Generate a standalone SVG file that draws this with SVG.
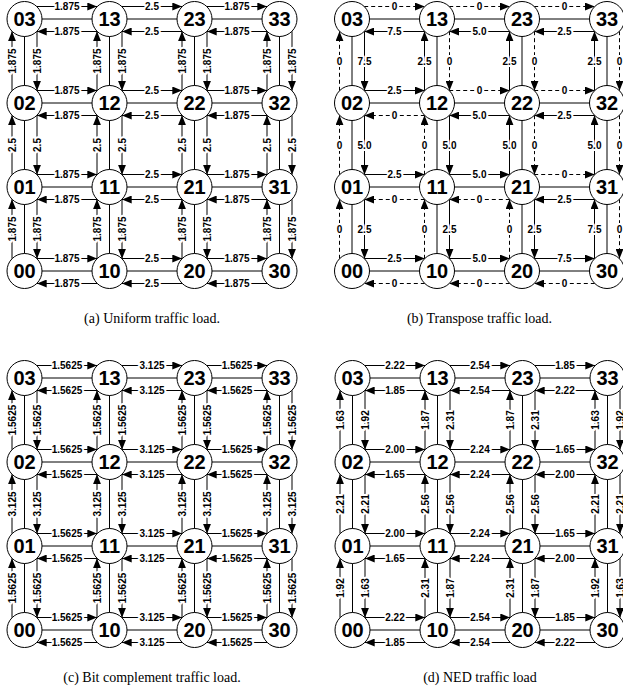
<svg xmlns="http://www.w3.org/2000/svg" xmlns:xlink="http://www.w3.org/1999/xlink" width="623" height="694" viewBox="0 0 623 694">
<style>
.cx{stroke:#000;stroke-width:1;fill:none}
.ar{stroke:#000;stroke-width:1;fill:none;marker-end:url(#ah)}
.d{stroke-dasharray:4 3}
.n circle{fill:#fff;stroke:#000;stroke-width:1}
.n text{font-family:"Liberation Sans",Arial,sans-serif;font-weight:bold;font-size:20px;text-anchor:middle;dominant-baseline:central;fill:#000}
.lb text{font-family:"Liberation Sans",Arial,sans-serif;font-weight:bold;font-size:10px;text-anchor:middle;dominant-baseline:central;fill:#000;stroke:#fff;stroke-width:4;paint-order:stroke;stroke-linejoin:round}
.cap{font-family:"Liberation Serif","Times New Roman",serif;font-size:14px;text-anchor:middle;fill:#000}
</style>
<defs>
<marker id="ah" markerUnits="userSpaceOnUse" markerWidth="10" markerHeight="8" refX="10" refY="4" orient="auto"><path d="M0,0 L10,4 L0,8 z" fill="#000" stroke="none"/></marker>
<line id="hr" x1="12.2" y1="-12.5" x2="72.8" y2="-12.5"/>
<line id="hl" x1="72.8" y1="12.5" x2="12.2" y2="12.5"/>
<line id="vu" x1="-12.5" y1="71.8" x2="-12.5" y2="12.2"/>
<line id="vd" x1="12.5" y1="12.2" x2="12.5" y2="71.8"/>
<g id="grid">
<line x1="0" y1="0" x2="255" y2="0"/><line x1="0" y1="84" x2="255" y2="84"/><line x1="0" y1="168" x2="255" y2="168"/><line x1="0" y1="252" x2="255" y2="252"/>
<line x1="0" y1="0" x2="0" y2="252"/><line x1="85" y1="0" x2="85" y2="252"/><line x1="170" y1="0" x2="170" y2="252"/><line x1="255" y1="0" x2="255" y2="252"/>
</g>
<g id="arrs">
<use href="#hr" x="0" y="0"/><use href="#hr" x="85" y="0"/><use href="#hr" x="170" y="0"/>
<use href="#hr" x="0" y="84"/><use href="#hr" x="85" y="84"/><use href="#hr" x="170" y="84"/>
<use href="#hr" x="0" y="168"/><use href="#hr" x="85" y="168"/><use href="#hr" x="170" y="168"/>
<use href="#hr" x="0" y="252"/><use href="#hr" x="85" y="252"/><use href="#hr" x="170" y="252"/>
<use href="#hl" x="0" y="0"/><use href="#hl" x="85" y="0"/><use href="#hl" x="170" y="0"/>
<use href="#hl" x="0" y="84"/><use href="#hl" x="85" y="84"/><use href="#hl" x="170" y="84"/>
<use href="#hl" x="0" y="168"/><use href="#hl" x="85" y="168"/><use href="#hl" x="170" y="168"/>
<use href="#hl" x="0" y="252"/><use href="#hl" x="85" y="252"/><use href="#hl" x="170" y="252"/>
<use href="#vu" x="0" y="0"/><use href="#vu" x="0" y="84"/><use href="#vu" x="0" y="168"/>
<use href="#vu" x="85" y="0"/><use href="#vu" x="85" y="84"/><use href="#vu" x="85" y="168"/>
<use href="#vu" x="170" y="0"/><use href="#vu" x="170" y="84"/><use href="#vu" x="170" y="168"/>
<use href="#vu" x="255" y="0"/><use href="#vu" x="255" y="84"/><use href="#vu" x="255" y="168"/>
<use href="#vd" x="0" y="0"/><use href="#vd" x="0" y="84"/><use href="#vd" x="0" y="168"/>
<use href="#vd" x="85" y="0"/><use href="#vd" x="85" y="84"/><use href="#vd" x="85" y="168"/>
<use href="#vd" x="170" y="0"/><use href="#vd" x="170" y="84"/><use href="#vd" x="170" y="168"/>
<use href="#vd" x="255" y="0"/><use href="#vd" x="255" y="84"/><use href="#vd" x="255" y="168"/>
</g>
</defs>
<rect width="623" height="694" fill="#fff"/>

<!-- (a) Uniform -->
<g id="panel-a" transform="translate(24.5,19)">
<g id="a-connectors">
<use href="#grid" class="cx"/>
<g class="ar"><use href="#arrs"/></g>
<g class="lb">
<text x="42.5" y="-12.5">1.875</text><text x="127.5" y="-12.5">2.5</text><text x="212.5" y="-12.5">1.875</text>
<text x="42.5" y="12.5">1.875</text><text x="127.5" y="12.5">2.5</text><text x="212.5" y="12.5">1.875</text>
<text x="42.5" y="71.5">1.875</text><text x="127.5" y="71.5">2.5</text><text x="212.5" y="71.5">1.875</text>
<text x="42.5" y="96.5">1.875</text><text x="127.5" y="96.5">2.5</text><text x="212.5" y="96.5">1.875</text>
<text x="42.5" y="155.5">1.875</text><text x="127.5" y="155.5">2.5</text><text x="212.5" y="155.5">1.875</text>
<text x="42.5" y="180.5">1.875</text><text x="127.5" y="180.5">2.5</text><text x="212.5" y="180.5">1.875</text>
<text x="42.5" y="239.5">1.875</text><text x="127.5" y="239.5">2.5</text><text x="212.5" y="239.5">1.875</text>
<text x="42.5" y="264.5">1.875</text><text x="127.5" y="264.5">2.5</text><text x="212.5" y="264.5">1.875</text>
<g transform="rotate(-90)">
<text x="-42" y="-12.5">1.875</text><text x="-126" y="-12.5">2.5</text><text x="-210" y="-12.5">1.875</text>
<text x="-42" y="12.5">1.875</text><text x="-126" y="12.5">2.5</text><text x="-210" y="12.5">1.875</text>
<text x="-42" y="72.5">1.875</text><text x="-126" y="72.5">2.5</text><text x="-210" y="72.5">1.875</text>
<text x="-42" y="97.5">1.875</text><text x="-126" y="97.5">2.5</text><text x="-210" y="97.5">1.875</text>
<text x="-42" y="157.5">1.875</text><text x="-126" y="157.5">2.5</text><text x="-210" y="157.5">1.875</text>
<text x="-42" y="182.5">1.875</text><text x="-126" y="182.5">2.5</text><text x="-210" y="182.5">1.875</text>
<text x="-42" y="242.5">1.875</text><text x="-126" y="242.5">2.5</text><text x="-210" y="242.5">1.875</text>
<text x="-42" y="267.5">1.875</text><text x="-126" y="267.5">2.5</text><text x="-210" y="267.5">1.875</text>
</g>
</g>
</g>
<g id="a-03" class="n" transform="translate(0,0)"><circle r="17.5"/><text>03</text></g>
<g id="a-13" class="n" transform="translate(85,0)"><circle r="17.5"/><text>13</text></g>
<g id="a-23" class="n" transform="translate(170,0)"><circle r="17.5"/><text>23</text></g>
<g id="a-33" class="n" transform="translate(255,0)"><circle r="17.5"/><text>33</text></g>
<g id="a-02" class="n" transform="translate(0,84)"><circle r="17.5"/><text>02</text></g>
<g id="a-12" class="n" transform="translate(85,84)"><circle r="17.5"/><text>12</text></g>
<g id="a-22" class="n" transform="translate(170,84)"><circle r="17.5"/><text>22</text></g>
<g id="a-32" class="n" transform="translate(255,84)"><circle r="17.5"/><text>32</text></g>
<g id="a-01" class="n" transform="translate(0,168)"><circle r="17.5"/><text>01</text></g>
<g id="a-11" class="n" transform="translate(85,168)"><circle r="17.5"/><text>11</text></g>
<g id="a-21" class="n" transform="translate(170,168)"><circle r="17.5"/><text>21</text></g>
<g id="a-31" class="n" transform="translate(255,168)"><circle r="17.5"/><text>31</text></g>
<g id="a-00" class="n" transform="translate(0,252)"><circle r="17.5"/><text>00</text></g>
<g id="a-10" class="n" transform="translate(85,252)"><circle r="17.5"/><text>10</text></g>
<g id="a-20" class="n" transform="translate(170,252)"><circle r="17.5"/><text>20</text></g>
<g id="a-30" class="n" transform="translate(255,252)"><circle r="17.5"/><text>30</text></g>
</g>

<!-- (b) Transpose -->
<g id="panel-b" transform="translate(352,19)">
<g id="b-connectors">
<use href="#grid" class="cx"/>
<g class="ar">
<use href="#hr" x="0" y="0" class="d"/><use href="#hr" x="85" y="0" class="d"/><use href="#hr" x="170" y="0" class="d"/>
<use href="#hr" x="0" y="84"/><use href="#hr" x="85" y="84" class="d"/><use href="#hr" x="170" y="84" class="d"/>
<use href="#hr" x="0" y="168"/><use href="#hr" x="85" y="168"/><use href="#hr" x="170" y="168" class="d"/>
<use href="#hr" x="0" y="252"/><use href="#hr" x="85" y="252"/><use href="#hr" x="170" y="252"/>
<use href="#hl" x="0" y="0"/><use href="#hl" x="85" y="0"/><use href="#hl" x="170" y="0"/>
<use href="#hl" x="0" y="84" class="d"/><use href="#hl" x="85" y="84"/><use href="#hl" x="170" y="84"/>
<use href="#hl" x="0" y="168" class="d"/><use href="#hl" x="85" y="168" class="d"/><use href="#hl" x="170" y="168"/>
<use href="#hl" x="0" y="252" class="d"/><use href="#hl" x="85" y="252" class="d"/><use href="#hl" x="170" y="252" class="d"/>
<use href="#vu" x="0" y="0" class="d"/><use href="#vu" x="0" y="84" class="d"/><use href="#vu" x="0" y="168" class="d"/>
<use href="#vu" x="85" y="0"/><use href="#vu" x="85" y="84" class="d"/><use href="#vu" x="85" y="168" class="d"/>
<use href="#vu" x="170" y="0"/><use href="#vu" x="170" y="84"/><use href="#vu" x="170" y="168" class="d"/>
<use href="#vu" x="255" y="0"/><use href="#vu" x="255" y="84"/><use href="#vu" x="255" y="168"/>
<use href="#vd" x="0" y="0"/><use href="#vd" x="0" y="84"/><use href="#vd" x="0" y="168"/>
<use href="#vd" x="85" y="0" class="d"/><use href="#vd" x="85" y="84"/><use href="#vd" x="85" y="168"/>
<use href="#vd" x="170" y="0" class="d"/><use href="#vd" x="170" y="84" class="d"/><use href="#vd" x="170" y="168"/>
<use href="#vd" x="255" y="0" class="d"/><use href="#vd" x="255" y="84" class="d"/><use href="#vd" x="255" y="168" class="d"/>
</g>
<g class="lb">
<text x="42.5" y="-12.5">0</text><text x="127.5" y="-12.5">0</text><text x="212.5" y="-12.5">0</text>
<text x="42.5" y="12.5">7.5</text><text x="127.5" y="12.5">5.0</text><text x="212.5" y="12.5">2.5</text>
<text x="42.5" y="71.5">2.5</text><text x="127.5" y="71.5">0</text><text x="212.5" y="71.5">0</text>
<text x="42.5" y="96.5">0</text><text x="127.5" y="96.5">5.0</text><text x="212.5" y="96.5">2.5</text>
<text x="42.5" y="155.5">2.5</text><text x="127.5" y="155.5">5.0</text><text x="212.5" y="155.5">0</text>
<text x="42.5" y="180.5">0</text><text x="127.5" y="180.5">0</text><text x="212.5" y="180.5">2.5</text>
<text x="42.5" y="239.5">2.5</text><text x="127.5" y="239.5">5.0</text><text x="212.5" y="239.5">7.5</text>
<text x="42.5" y="264.5">0</text><text x="127.5" y="264.5">0</text><text x="212.5" y="264.5">0</text>
<text x="-12.5" y="42">0</text><text x="-12.5" y="126">0</text><text x="-12.5" y="210">0</text>
<text x="12.5" y="42">7.5</text><text x="12.5" y="126">5.0</text><text x="12.5" y="210">2.5</text>
<text x="72.5" y="42">2.5</text><text x="72.5" y="126">0</text><text x="72.5" y="210">0</text>
<text x="97.5" y="42">0</text><text x="97.5" y="126">5.0</text><text x="97.5" y="210">2.5</text>
<text x="157.5" y="42">2.5</text><text x="157.5" y="126">5.0</text><text x="157.5" y="210">0</text>
<text x="182.5" y="42">0</text><text x="182.5" y="126">0</text><text x="182.5" y="210">2.5</text>
<text x="242.5" y="42">2.5</text><text x="242.5" y="126">5.0</text><text x="242.5" y="210">7.5</text>
<text x="267.5" y="42">0</text><text x="267.5" y="126">0</text><text x="267.5" y="210">0</text>
</g>
</g>
<g id="b-03" class="n" transform="translate(0,0)"><circle r="17.5"/><text>03</text></g>
<g id="b-13" class="n" transform="translate(85,0)"><circle r="17.5"/><text>13</text></g>
<g id="b-23" class="n" transform="translate(170,0)"><circle r="17.5"/><text>23</text></g>
<g id="b-33" class="n" transform="translate(255,0)"><circle r="17.5"/><text>33</text></g>
<g id="b-02" class="n" transform="translate(0,84)"><circle r="17.5"/><text>02</text></g>
<g id="b-12" class="n" transform="translate(85,84)"><circle r="17.5"/><text>12</text></g>
<g id="b-22" class="n" transform="translate(170,84)"><circle r="17.5"/><text>22</text></g>
<g id="b-32" class="n" transform="translate(255,84)"><circle r="17.5"/><text>32</text></g>
<g id="b-01" class="n" transform="translate(0,168)"><circle r="17.5"/><text>01</text></g>
<g id="b-11" class="n" transform="translate(85,168)"><circle r="17.5"/><text>11</text></g>
<g id="b-21" class="n" transform="translate(170,168)"><circle r="17.5"/><text>21</text></g>
<g id="b-31" class="n" transform="translate(255,168)"><circle r="17.5"/><text>31</text></g>
<g id="b-00" class="n" transform="translate(0,252)"><circle r="17.5"/><text>00</text></g>
<g id="b-10" class="n" transform="translate(85,252)"><circle r="17.5"/><text>10</text></g>
<g id="b-20" class="n" transform="translate(170,252)"><circle r="17.5"/><text>20</text></g>
<g id="b-30" class="n" transform="translate(255,252)"><circle r="17.5"/><text>30</text></g>
</g>

<!-- (c) Bit complement -->
<g id="panel-c" transform="translate(24.5,378)">
<g id="c-connectors">
<use href="#grid" class="cx"/>
<g class="ar"><use href="#arrs"/></g>
<g class="lb">
<text x="42.5" y="-12.5">1.5625</text><text x="127.5" y="-12.5">3.125</text><text x="212.5" y="-12.5">1.5625</text>
<text x="42.5" y="12.5">1.5625</text><text x="127.5" y="12.5">3.125</text><text x="212.5" y="12.5">1.5625</text>
<text x="42.5" y="71.5">1.5625</text><text x="127.5" y="71.5">3.125</text><text x="212.5" y="71.5">1.5625</text>
<text x="42.5" y="96.5">1.5625</text><text x="127.5" y="96.5">3.125</text><text x="212.5" y="96.5">1.5625</text>
<text x="42.5" y="155.5">1.5625</text><text x="127.5" y="155.5">3.125</text><text x="212.5" y="155.5">1.5625</text>
<text x="42.5" y="180.5">1.5625</text><text x="127.5" y="180.5">3.125</text><text x="212.5" y="180.5">1.5625</text>
<text x="42.5" y="239.5">1.5625</text><text x="127.5" y="239.5">3.125</text><text x="212.5" y="239.5">1.5625</text>
<text x="42.5" y="264.5">1.5625</text><text x="127.5" y="264.5">3.125</text><text x="212.5" y="264.5">1.5625</text>
<g transform="rotate(-90)">
<text x="-42" y="-12.5">1.5625</text><text x="-126" y="-12.5">3.125</text><text x="-210" y="-12.5">1.5625</text>
<text x="-42" y="12.5">1.5625</text><text x="-126" y="12.5">3.125</text><text x="-210" y="12.5">1.5625</text>
<text x="-42" y="72.5">1.5625</text><text x="-126" y="72.5">3.125</text><text x="-210" y="72.5">1.5625</text>
<text x="-42" y="97.5">1.5625</text><text x="-126" y="97.5">3.125</text><text x="-210" y="97.5">1.5625</text>
<text x="-42" y="157.5">1.5625</text><text x="-126" y="157.5">3.125</text><text x="-210" y="157.5">1.5625</text>
<text x="-42" y="182.5">1.5625</text><text x="-126" y="182.5">3.125</text><text x="-210" y="182.5">1.5625</text>
<text x="-42" y="242.5">1.5625</text><text x="-126" y="242.5">3.125</text><text x="-210" y="242.5">1.5625</text>
<text x="-42" y="267.5">1.5625</text><text x="-126" y="267.5">3.125</text><text x="-210" y="267.5">1.5625</text>
</g>
</g>
</g>
<g id="c-03" class="n" transform="translate(0,0)"><circle r="17.5"/><text>03</text></g>
<g id="c-13" class="n" transform="translate(85,0)"><circle r="17.5"/><text>13</text></g>
<g id="c-23" class="n" transform="translate(170,0)"><circle r="17.5"/><text>23</text></g>
<g id="c-33" class="n" transform="translate(255,0)"><circle r="17.5"/><text>33</text></g>
<g id="c-02" class="n" transform="translate(0,84)"><circle r="17.5"/><text>02</text></g>
<g id="c-12" class="n" transform="translate(85,84)"><circle r="17.5"/><text>12</text></g>
<g id="c-22" class="n" transform="translate(170,84)"><circle r="17.5"/><text>22</text></g>
<g id="c-32" class="n" transform="translate(255,84)"><circle r="17.5"/><text>32</text></g>
<g id="c-01" class="n" transform="translate(0,168)"><circle r="17.5"/><text>01</text></g>
<g id="c-11" class="n" transform="translate(85,168)"><circle r="17.5"/><text>11</text></g>
<g id="c-21" class="n" transform="translate(170,168)"><circle r="17.5"/><text>21</text></g>
<g id="c-31" class="n" transform="translate(255,168)"><circle r="17.5"/><text>31</text></g>
<g id="c-00" class="n" transform="translate(0,252)"><circle r="17.5"/><text>00</text></g>
<g id="c-10" class="n" transform="translate(85,252)"><circle r="17.5"/><text>10</text></g>
<g id="c-20" class="n" transform="translate(170,252)"><circle r="17.5"/><text>20</text></g>
<g id="c-30" class="n" transform="translate(255,252)"><circle r="17.5"/><text>30</text></g>
</g>

<!-- (d) NED -->
<g id="panel-d" transform="translate(352.5,378)">
<g id="d-connectors">
<use href="#grid" class="cx"/>
<g class="ar"><use href="#arrs"/></g>
<g class="lb">
<text x="42.5" y="-12.5">2.22</text><text x="127.5" y="-12.5">2.54</text><text x="212.5" y="-12.5">1.85</text>
<text x="42.5" y="12.5">1.85</text><text x="127.5" y="12.5">2.54</text><text x="212.5" y="12.5">2.22</text>
<text x="42.5" y="71.5">2.00</text><text x="127.5" y="71.5">2.24</text><text x="212.5" y="71.5">1.65</text>
<text x="42.5" y="96.5">1.65</text><text x="127.5" y="96.5">2.24</text><text x="212.5" y="96.5">2.00</text>
<text x="42.5" y="155.5">2.00</text><text x="127.5" y="155.5">2.24</text><text x="212.5" y="155.5">1.65</text>
<text x="42.5" y="180.5">1.65</text><text x="127.5" y="180.5">2.24</text><text x="212.5" y="180.5">2.00</text>
<text x="42.5" y="239.5">2.22</text><text x="127.5" y="239.5">2.54</text><text x="212.5" y="239.5">1.85</text>
<text x="42.5" y="264.5">1.85</text><text x="127.5" y="264.5">2.54</text><text x="212.5" y="264.5">2.22</text>
<g transform="rotate(-90)">
<text x="-42" y="-12.5">1.63</text><text x="-126" y="-12.5">2.21</text><text x="-210" y="-12.5">1.92</text>
<text x="-42" y="12.5">1.92</text><text x="-126" y="12.5">2.21</text><text x="-210" y="12.5">1.63</text>
<text x="-42" y="72.5">1.87</text><text x="-126" y="72.5">2.56</text><text x="-210" y="72.5">2.31</text>
<text x="-42" y="97.5">2.31</text><text x="-126" y="97.5">2.56</text><text x="-210" y="97.5">1.87</text>
<text x="-42" y="157.5">1.87</text><text x="-126" y="157.5">2.56</text><text x="-210" y="157.5">2.31</text>
<text x="-42" y="182.5">2.31</text><text x="-126" y="182.5">2.56</text><text x="-210" y="182.5">1.87</text>
<text x="-42" y="242.5">1.63</text><text x="-126" y="242.5">2.21</text><text x="-210" y="242.5">1.92</text>
<text x="-42" y="267.5">1.92</text><text x="-126" y="267.5">2.21</text><text x="-210" y="267.5">1.63</text>
</g>
</g>
</g>
<g id="d-03" class="n" transform="translate(0,0)"><circle r="17.5"/><text>03</text></g>
<g id="d-13" class="n" transform="translate(85,0)"><circle r="17.5"/><text>13</text></g>
<g id="d-23" class="n" transform="translate(170,0)"><circle r="17.5"/><text>23</text></g>
<g id="d-33" class="n" transform="translate(255,0)"><circle r="17.5"/><text>33</text></g>
<g id="d-02" class="n" transform="translate(0,84)"><circle r="17.5"/><text>02</text></g>
<g id="d-12" class="n" transform="translate(85,84)"><circle r="17.5"/><text>12</text></g>
<g id="d-22" class="n" transform="translate(170,84)"><circle r="17.5"/><text>22</text></g>
<g id="d-32" class="n" transform="translate(255,84)"><circle r="17.5"/><text>32</text></g>
<g id="d-01" class="n" transform="translate(0,168)"><circle r="17.5"/><text>01</text></g>
<g id="d-11" class="n" transform="translate(85,168)"><circle r="17.5"/><text>11</text></g>
<g id="d-21" class="n" transform="translate(170,168)"><circle r="17.5"/><text>21</text></g>
<g id="d-31" class="n" transform="translate(255,168)"><circle r="17.5"/><text>31</text></g>
<g id="d-00" class="n" transform="translate(0,252)"><circle r="17.5"/><text>00</text></g>
<g id="d-10" class="n" transform="translate(85,252)"><circle r="17.5"/><text>10</text></g>
<g id="d-20" class="n" transform="translate(170,252)"><circle r="17.5"/><text>20</text></g>
<g id="d-30" class="n" transform="translate(255,252)"><circle r="17.5"/><text>30</text></g>
</g>

<g id="captions">
<text class="cap" x="152" y="323">(a) Uniform traffic load.</text>
<text class="cap" x="479.5" y="323">(b) Transpose traffic load.</text>
<text class="cap" x="152" y="682">(c) Bit complement traffic load.</text>
<text class="cap" x="480" y="682">(d) NED traffic load</text>
</g>
</svg>
